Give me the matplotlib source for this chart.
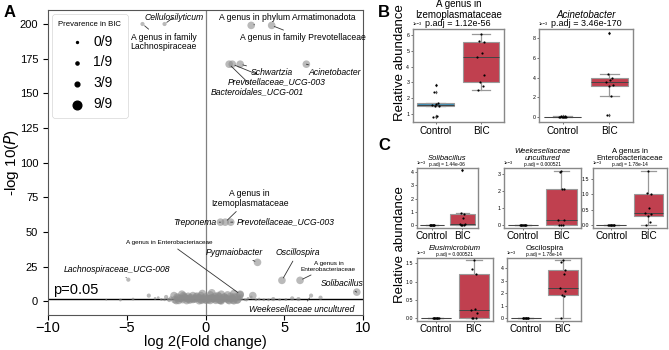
import numpy as np
import matplotlib
matplotlib.use('Agg')
import matplotlib.pyplot as plt

plt.rcParams['font.family'] = ['Liberation Sans', 'DejaVu Sans']

# —–––– Volcano data (A) —––––
lab_names = ['A genus in family\nLachnospiraceae', 'Cellulosilyticum',
             'A genus in phylum Armatimonadota', 'A genus in family Prevotellaceae',
             'Bacteroidales_UCG-001', 'Prevotellaceae_UCG-003', 'Schwartzia', 'Acinetobacter',
             'Treponema', 'A genus in\nIzemoplasmataceae', 'Prevotellaceae_UCG-003 ',
             'Pygmaiobacter', 'A genus in Enterobacteriaceae', 'Lachnospiraceae_UCG-008',
             'Oscillospira', 'A genus in\nEnterobacteriaceae', 'Solibacillus',
             'Weekesellaceae uncultured']
lab_fc = [-4.0, -2.6, 2.9, 4.2, 1.5, 1.7, 2.2, 6.4, 0.95, 1.25, 1.6, 3.3, 2.2, -4.9, 4.85, 6.0, 9.6, 6.7]
lab_p = [200, 200, 199, 199, 171, 171, 171, 171, 57, 57, 57, 28, 5, 15.5, 15, 15, 6.5, 4]
lab_prev = [3, 3, 9, 9, 9, 9, 9, 9, 9, 9, 9, 9, 9, 3, 9, 9, 9, 3]
lab_text_xy = [(-4.75, 187), (-2.0, 205), (5.2, 205), (2.2, 190), (3.3, 151), (4.5, 158),
               (4.2, 165), (8.2, 165), (0.7, 57), (2.8, 74), (2.0, 57), (1.8, 35),
               (-2.3, 42), (-5.6, 23), (5.85, 35), (7.8, 25), (7.3, 13), (6.1, -6)]
lab_italic = [False, True, False, False, True, True, True, True, True, False, True,
              True, False, True, True, False, True, True]

bg_fc = [-6.3, -5.4, -4.6, -3.6, -3.2, -2.8, -2.5, -2.4, -2.2, -2.0, -1.9, -1.8, -1.6,
         -1.5, -1.4, -1.3, -1.2, -1.1, -1.0, -0.9, -0.8, -0.7, -0.6, -0.5, -0.4, -0.3,
         -0.2, -0.1, 0.0, 0.1, 0.2, 0.3, 0.4, 0.5, 0.6, 0.7, 0.8, 0.9, 1.0, 1.1, 1.2,
         1.3, 1.4, 1.5, 1.6, 1.7, 1.8, 1.9, 2.0, 2.1, 2.3, 2.5, 2.7, 3.0, 3.2, 3.4, 3.7,
         4.0, 4.3, 4.7, 5.1, 5.5, 5.9, 7.3, -1.7, -1.0, -0.4, 0.3, 0.9, 1.5, 2.0, -2.3,
         -1.2, 0.5, 1.2, 1.8, -0.8, 0.0, 0.7, 2.2, -0.2, 1.0, -1.5, 0.4,
         -1.95, -1.75, -1.55, -1.35, -1.15, -0.95, -0.75, -0.55, -0.35, -0.15, 0.05,
         0.25, 0.45, 0.65, 0.85, 1.05, 1.25, 1.45, 1.65, 1.85, 2.05, 2.25, -1.85, -1.45,
         -1.05, -0.65, -0.25, 0.15, 0.55, 0.95, 1.35, 1.75, 2.15, -2.6, -3.0, 2.6, 2.9]
bg_p = [1.0, 0.8, 1.5, 4.0, 2.0, 1.2, 3.0, 1.5, 2.0, 4.0, 1.0, 3.0, 2.0, 1.0, 4.0, 2.5,
        1.0, 3.5, 2.0, 0.5, 4.0, 1.5, 3.0, 1.0, 2.5, 4.0, 1.5, 0.5, 3.0, 2.0, 1.0, 4.5,
        2.5, 0.5, 3.5, 1.5, 4.0, 2.0, 5.0, 1.0, 3.0, 2.0, 4.5, 1.0, 3.5, 2.0, 5.5, 1.0,
        3.0, 2.0, 1.5, 1.0, 2.0, 4.0, 1.0, 1.5, 1.0, 1.0, 1.5, 1.0, 1.2, 2.0, 1.5, 2.5,
        0.5, 0.8, 0.3, 0.5, 0.6, 0.4, 0.7, 0.8, 0.4, 1.8, 2.8, 0.3, 1.2, 1.0, 2.2, 4.5,
        5.5, 0.2, 5.0, 6.0,
        1.0, 2.2, 0.8, 3.1, 1.6, 2.6, 0.9, 3.6, 1.3, 2.1, 0.7, 2.9, 1.8, 0.6, 3.3, 1.4,
        2.5, 0.9, 2.0, 3.0, 1.2, 3.5, 0.4, 1.1, 0.3, 1.9, 0.6, 1.5, 2.3, 0.5, 1.7, 0.8,
        2.6, 1.0, 2.5, 0.8, 3.0]
bg_prev = [0, 1, 1, 3, 1, 1, 3, 1, 3, 9, 1, 9, 9, 3, 9, 9, 3, 9, 9, 3, 9, 9, 9, 3, 9,
           9, 9, 3, 9, 9, 9, 9, 9, 3, 9, 9, 9, 9, 9, 3, 9, 9, 9, 3, 9, 9, 9, 3, 9, 3, 1,
           1, 1, 9, 1, 1, 1, 1, 3, 1, 1, 3, 3, 3, 9, 9, 9, 9, 9, 9, 9, 3, 9, 9, 9, 9, 9,
           9, 9, 9, 9, 9, 9, 9,
           9, 9, 3, 9, 9, 9, 3, 9, 9, 9, 9, 3, 9, 9, 9, 9, 3, 9, 9, 9, 9, 3, 9, 9, 3, 9,
           9, 9, 3, 9, 9, 9, 3, 1, 1, 1, 1]

prev_levels = [0, 1, 3, 9]
prev_size = {0: 1.5, 1: 4, 3: 9, 9: 30}

# —–––– Box plot data (B, C), relative abundance in units of 1e-3 —––––
SCALE = 1e-3
groups = ['Control', 'BIC']
box_titles = ['A genus in\nIzemoplasmataceae', 'Acinetobacter', 'Solibacillus',
              'Weekesellaceae\nuncultured', 'A genus in\nEnterobacteriaceae',
              'Elusimicrobium', 'Oscilospira']
box_title_italic = [False, True, True, True, False, True, False]
box_padj = ['1.12e-56', '3.46e-170', '1.44e-06', '0.000521', '1.78e-14', '0.000521', '1.78e-14']
ctrl_vals = [
    [0.8, 0.82, 1.47, 1.5, 1.55, 1.6, 1.65, 2.4, 2.8],
    [0, 0, 0, 0, 0, 0.05, 0.1, 0.15, 0],
    [0, 0, 0, 0, 0, 0, 0, 0, 0],
    [0, 0, 0, 0, 0, 0, 0, 0, 0],
    [0, 0, 0, 0, 0, 0, 0, 0, 0],
    [0, 0, 0, 0, 0, 0, 0, 0, 0],
    [0, 0, 0, 0, 0, 0, 0, 0, 0],
]
bic_vals = [
    [2.5, 2.75, 3.0, 3.45, 4.6, 4.9, 5.6, 5.65, 6.1],
    [0.2, 2.1, 3.1, 3.3, 3.6, 3.8, 4.0, 4.35, 8.5],
    [0, 0, 0.05, 0.1, 0.12, 0.55, 0.85, 0.9, 4.15],
    [0, 0, 0, 0.3, 0.3, 2.1, 2.15, 3.1, 3.15],
    [0, 0.1, 0.28, 0.35, 0.38, 0.55, 1.0, 1.05, 1.75],
    [0, 0, 0.01, 0.15, 0.22, 0.25, 1.2, 1.35, 1.6],
    [0, 1.8, 1.85, 2.2, 2.4, 3.5, 3.85, 4.5, 4.6],
]
box_yticks = [[1, 2, 3, 4, 5, 6], [0, 2, 4, 6, 8], [0, 1, 2, 3, 4], [0, 1, 2, 3],
              [0.0, 0.5, 1.0, 1.5], [0.0, 0.5, 1.0, 1.5], [0, 1, 2, 3, 4]]
box_ylim = [(0.45, 6.4), (-0.5, 8.9), (-0.2, 4.3), (-0.15, 3.35), (-0.09, 1.85),
            (-0.07, 1.65), (-0.2, 4.8)]

# axes rectangles (figure fraction)
box_rects = [[0.617, 0.651, 0.136, 0.266], [0.806, 0.651, 0.140, 0.266],
             [0.623, 0.349, 0.091, 0.171], [0.753, 0.349, 0.115, 0.171],
             [0.886, 0.349, 0.111, 0.171],
             [0.623, 0.083, 0.114, 0.180], [0.758, 0.083, 0.111, 0.180]]

RED = '#c0404f'
BLUE = '#3b8fb8'

fig = plt.figure(figsize=(6.69, 3.5), dpi=100)

# —–––– A: volcano —––––
ax = fig.add_axes([0.0717, 0.1, 0.471, 0.871])
ax.axvline(0, color='#808080', lw=0.9, zorder=1)
ax.axhline(-np.log10(0.05), color='black', lw=1.0, zorder=1)
ax.scatter(bg_fc, bg_p, s=[prev_size[p] for p in bg_prev], color='#8c8c8c',
           alpha=0.6, linewidths=0, zorder=2)
ax.scatter(lab_fc, lab_p, s=[prev_size[p] for p in lab_prev], color='#8c8c8c',
           alpha=0.6, linewidths=0, zorder=2)

for name, fc, p, txy, it in zip(lab_names, lab_fc, lab_p, lab_text_xy, lab_italic):
    small = name.startswith('A genus in Entero') or name == 'A genus in\nEnterobacteriaceae'
    fs = 4.6 if small else 6.2
    ha = 'center'
    if name == 'Treponema':
        ha = 'right'
    elif name in ('Prevotellaceae_UCG-003 ', 'Solibacillus', 'A genus in family Prevotellaceae'):
        ha = 'left'
    elif name.startswith('A genus in family\nLach'):
        ha = 'left'
    ax.annotate(name.strip(), xy=(fc, p), xytext=txy, ha=ha, va='center',
                fontsize=fs, style='italic' if it else 'normal', linespacing=1.05,
                arrowprops=dict(arrowstyle='-', color='#333333', lw=0.6,
                                shrinkA=1, shrinkB=2))

ax.text(-9.7, 8, 'p=0.05', fontsize=10.5, va='center')
ax.set_xlim(-10, 10)
ax.set_ylim(-10, 210)
ax.set_xticks([-10, -5, 0, 5, 10])
ax.set_yticks([0, 25, 50, 75, 100, 125, 150, 175, 200])
ax.tick_params(axis='x', labelsize=10.5, pad=1)
ax.tick_params(axis='y', labelsize=8)
ax.set_xlabel('log 2(Fold change)', fontsize=10.5, labelpad=0)
ax.set_ylabel(r'-log 10($P$)', fontsize=11)
ax.yaxis.set_label_coords(-0.085, 0.5)
for sp in ax.spines.values():
    sp.set_color('#555555')

handles = [ax.scatter([], [], s=prev_size[p] * 1.3, color='black') for p in prev_levels]
leg = ax.legend(handles, [f'{p}/9' for p in prev_levels], title='Prevarence in BIC',
                loc='upper left', fontsize=10, title_fontsize=5.6, labelspacing=0.5,
                handletextpad=0.5, handlelength=1.4, borderpad=0.45,
                borderaxespad=0.3, frameon=True)
leg.get_frame().set_linewidth(0.5)

# —–––– B, C: box plots —––––
for i in range(len(box_titles)):
    bx = fig.add_axes(box_rects[i])
    data = [np.array(ctrl_vals[i]) * SCALE, np.array(bic_vals[i]) * SCALE]
    bp = bx.boxplot(data, positions=[0, 1], widths=0.8, patch_artist=True,
                    flierprops=dict(marker='d', markersize=2, markerfacecolor='#555555',
                                    markeredgecolor='none'),
                    medianprops=dict(color='#444444', lw=0.7),
                    whiskerprops=dict(color='#999999', lw=0.9),
                    capprops=dict(color='#999999', lw=0.9),
                    boxprops=dict(edgecolor='#999999', lw=0.8))
    bp['boxes'][0].set_facecolor(BLUE)
    bp['boxes'][1].set_facecolor(RED)
    offs = [-0.06, 0.04, -0.02, 0.07, -0.08, 0.02, 0.06, -0.04, 0.0]
    for k, vals in enumerate(data):
        bx.scatter(k + np.array(offs[:len(vals)]), vals, s=2.5, color='black',
                   linewidths=0, zorder=4)
    bx.set_xlim(-0.5, 1.5)
    bx.set_ylim(box_ylim[i][0] * SCALE, box_ylim[i][1] * SCALE)
    bx.set_yticks(np.array(box_yticks[i]) * SCALE)
    bx.ticklabel_format(axis='y', style='sci', scilimits=(-3, -3))
    bx.yaxis.get_offset_text().set_fontsize(3)
    bx.set_xticks([0, 1])
    bx.set_xticklabels(groups, fontsize=7.2)
    bx.tick_params(axis='y', labelsize=3.8, length=1.5, width=0.4, pad=1)
    bx.tick_params(axis='x', length=1.5, width=0.4, pad=1)
    for sp in bx.spines.values():
        sp.set_color('#888888')
        sp.set_linewidth(1.0)

    big = i < 2
    pfs = 6.5 if big else 3.5
    tfs = 7 if big else 5.5
    bx.text(0.5, 1.015, f'p.adj = {box_padj[i]}', transform=bx.transAxes,
            ha='center', va='bottom', fontsize=pfs)
    bx.text(0.5, 1.10, box_titles[i], transform=bx.transAxes,
            ha='center', va='bottom', fontsize=tfs,
            style='italic' if box_title_italic[i] else 'normal', linespacing=1.05)

fig.text(0.598, 0.82, 'Relative abundance', rotation=90, ha='center', va='center', fontsize=9.5)
fig.text(0.598, 0.30, 'Relative abundance', rotation=90, ha='center', va='center', fontsize=9.5)

fig.text(0.005, 0.985, 'A', fontsize=12, fontweight='bold', va='top')
fig.text(0.565, 0.985, 'B', fontsize=12, fontweight='bold', va='top')
fig.text(0.565, 0.605, 'C', fontsize=12, fontweight='bold', va='top')

fig.savefig('out.png', dpi=100)
